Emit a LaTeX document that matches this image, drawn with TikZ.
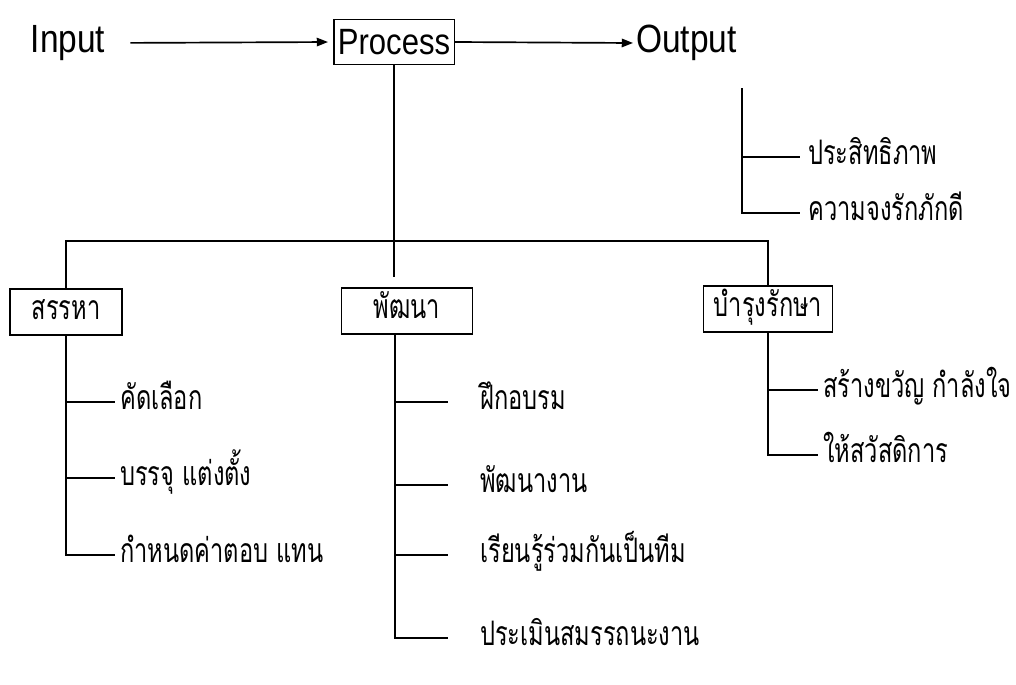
\documentclass[tikz,border=0pt]{standalone}
\usepackage{fontspec}
\newfontfamily\thaifont[Script=Thai,FakeStretch=0.7]{Loma}
\newfontfamily\latinfont[FakeStretch=0.85]{Liberation Sans}
\usetikzlibrary{arrows.meta,calc}
\tikzset{
  hrterm/.style={font=\latinfont\fontsize{28}{32}\selectfont, inner sep=2pt},
  hrbox/.style={draw, line width=1.2pt, minimum height=1.15cm, inner sep=3pt,
    text height=11pt, text depth=0pt, font=\thaifont\fontsize{24}{28}\selectfont},
  hrprocbox/.style={draw, line width=1.2pt, minimum height=1.12cm, inner sep=3pt,
    font=\latinfont\fontsize{26}{30}\selectfont},
  hrleaf/.style={anchor=west, inner sep=0pt, text height=11pt, text depth=0pt,
    font=\thaifont\fontsize{24}{28}\selectfont},
  hrarrow/.style={-{Triangle[length=8pt,width=6pt]}, line width=1.2pt},
  hrline/.style={line width=1.2pt},
}

\begin{document}
\begin{tikzpicture}[x=0.025cm,y=-0.025cm]
  \useasboundingbox (0,0) rectangle (1016,684);
  % top row
  \node[hrterm] (in) at (68,43) {Input};
  \node[hrprocbox, minimum width=2.7cm] (proc) at (394,42) {Process};
  \node[hrterm, anchor=west] (out) at (633,43) {Output};
  \draw[hrarrow, shorten <=0.55cm, shorten >=0.12cm] (in.east) -- (proc.west);
  \draw[hrarrow] (proc.east) -- (out.west);

  % second level
  \node[hrbox, minimum width=2.8cm] (recruit) at (66,312) {สรรหา};
  \node[hrbox, minimum width=3.275cm] (dev) at (407,311) {พัฒนา};
  \node[hrbox, minimum width=3.225cm] (maint) at (768,309) {บำรุงรักษา};
  \coordinate (hub) at (397,241);
  \draw[hrline] (proc.south) -- ($(proc.south |- dev.north)+(0,-10)$);
  \draw[hrline] (recruit.north) |- (hub) -| (maint.north);

  % output branch
  \coordinate (outspine) at (742,88);
  \foreach \y/\t [count=\i] in {157/ประสิทธิภาพ, 213/ความจงรักภักดี}
    \node[hrleaf] (res\i) at (808,\y) {\t};
  \draw[hrline, shorten >=0.2cm] (outspine) |- (res2.west);
  \draw[hrline, shorten >=0.2cm] (outspine |- res1.west) -- (res1.west);

  % recruit branch
  \foreach \y/\t [count=\i] in {402/คัดเลือก, 478/บรรจุ แต่งตั้ง, 555/กำหนดค่าตอบ แทน}
    \node[hrleaf] (rec\i) at (120,\y) {\t};
  \draw[hrline, shorten >=0.125cm] (recruit.south) |- (rec3.west);
  \foreach \i in {1,2}
    \draw[hrline, shorten >=0.125cm] (recruit.south |- rec\i.west) -- (rec\i.west);

  % development branch
  \foreach \y/\t [count=\i] in {402/ฝึกอบรม, 485/พัฒนางาน, 555/เรียนรู้ร่วมกันเป็นทีม, 638/ประเมินสมรรถนะงาน}
    \node[hrleaf] (trn\i) at (480,\y) {\t};
  \coordinate (devspine) at ($(dev.south)+(-12,0)$);
  \draw[hrline, shorten >=0.8cm] (devspine) |- (trn4.west);
  \foreach \i in {1,2,3}
    \draw[hrline, shorten >=0.8cm] (devspine |- trn\i.west) -- (trn\i.west);

  % maintenance branch
  \foreach \y/\t [count=\i] in {390/สร้างขวัญ กำลังใจ, 455/ให้สวัสดิการ}
    \node[hrleaf] (ben\i) at (823,\y) {\t};
  \draw[hrline, shorten >=0.125cm] (maint.south) |- (ben2.west);
  \draw[hrline, shorten >=0.125cm] (maint.south |- ben1.west) -- (ben1.west);
\end{tikzpicture}
\end{document}
